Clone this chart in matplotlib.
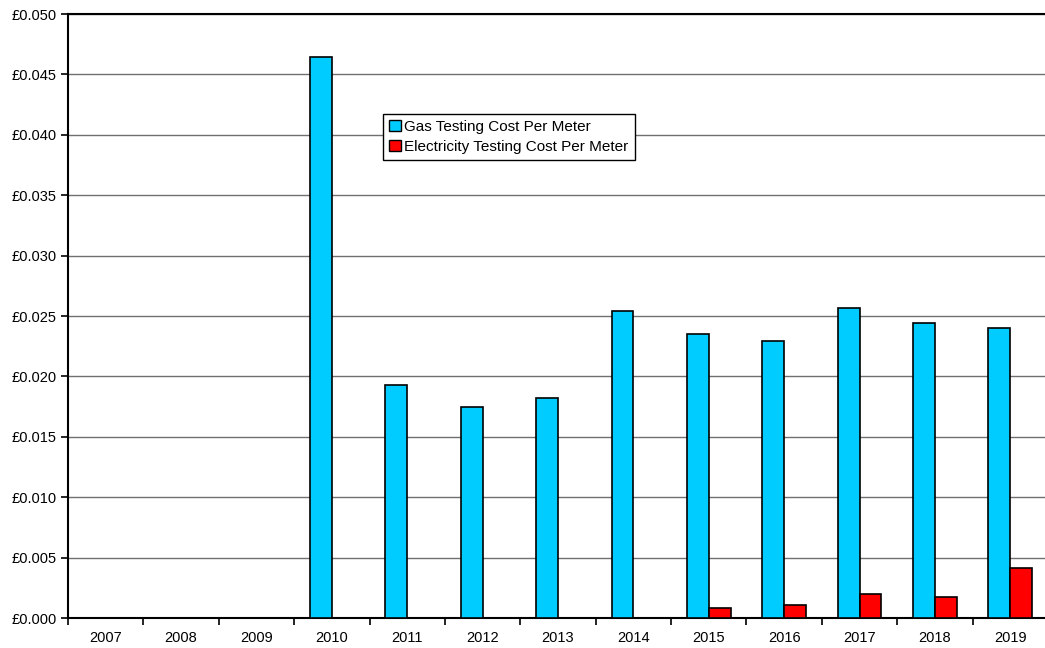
import numpy as np
import matplotlib.pyplot as plt
from matplotlib.ticker import FuncFormatter, FixedLocator

plt.rcParams["font.family"] = ["Liberation Sans", "DejaVu Sans"]

years = ["2007", "2008", "2009", "2010", "2011", "2012", "2013",
         "2014", "2015", "2016", "2017", "2018", "2019"]
gas_cost = [0, 0, 0, 0.0464, 0.0193, 0.0175, 0.0182,
            0.0254, 0.0235, 0.0229, 0.0257, 0.0244, 0.0240]
elec_cost = [0, 0, 0, 0, 0, 0, 0,
             0, 0.0008, 0.0011, 0.0020, 0.0017, 0.0041]

GAS_COLOR = "#00CCFF"
ELEC_COLOR = "#FF0000"

fig = plt.figure(figsize=(10.45, 6.48), dpi=100)
ax = fig.add_axes([68 / 1045, 30 / 648, 980 / 1045, 604 / 648])

x = np.arange(len(years))
w = 0.29
# zero-height bars are skipped so no stray outline shows on the baseline
for xi, g, e in zip(x, gas_cost, elec_cost):
    if g > 0:
        ax.bar(xi - w / 2, g, w, color=GAS_COLOR, edgecolor="black", linewidth=1.2, zorder=3)
    if e > 0:
        ax.bar(xi + w / 2, e, w, color=ELEC_COLOR, edgecolor="black", linewidth=1.2, zorder=3)

ax.set_xlim(-0.5, len(years) - 0.5)
ax.set_ylim(0, 0.05)
ax.set_yticks(np.arange(0, 0.0501, 0.005))
ax.yaxis.set_major_formatter(FuncFormatter(lambda v, p: f"£{v:.3f}"))
ax.grid(axis="y", color="#707070", linewidth=1.0, zorder=0)

# year labels in the middle, tick marks on the category boundaries
ax.set_xticks(x)
ax.set_xticklabels(years)
ax.tick_params(axis="x", which="major", length=0, pad=9, labelsize=10.5)
ax.xaxis.set_minor_locator(FixedLocator(np.arange(-0.5, len(years), 1.0)))
ax.tick_params(axis="x", which="minor", length=5, width=1.2, direction="out")
ax.tick_params(axis="y", length=5, width=1.2, direction="out", labelsize=10.5, pad=3)

ax.spines["right"].set_visible(False)
for side in ("top", "left", "bottom"):
    ax.spines[side].set_linewidth(1.5)

handles = [
    plt.Rectangle((0, 0), 1, 1, facecolor=GAS_COLOR, edgecolor="black", linewidth=1),
    plt.Rectangle((0, 0), 1, 1, facecolor=ELEC_COLOR, edgecolor="black", linewidth=1),
]
leg = fig.legend(
    handles, ["Gas Testing Cost Per Meter", "Electricity Testing Cost Per Meter"],
    loc="upper left", bbox_to_anchor=(383 / 1045, 1 - 114 / 648),
    frameon=True, fancybox=False, edgecolor="black", framealpha=1,
    fontsize=11, handlelength=0.75, handleheight=0.75, handletextpad=0.25,
    borderpad=0.4, labelspacing=0.4, borderaxespad=0,
)
leg.get_frame().set_linewidth(1.0)

fig.savefig("out.png", dpi=100)
